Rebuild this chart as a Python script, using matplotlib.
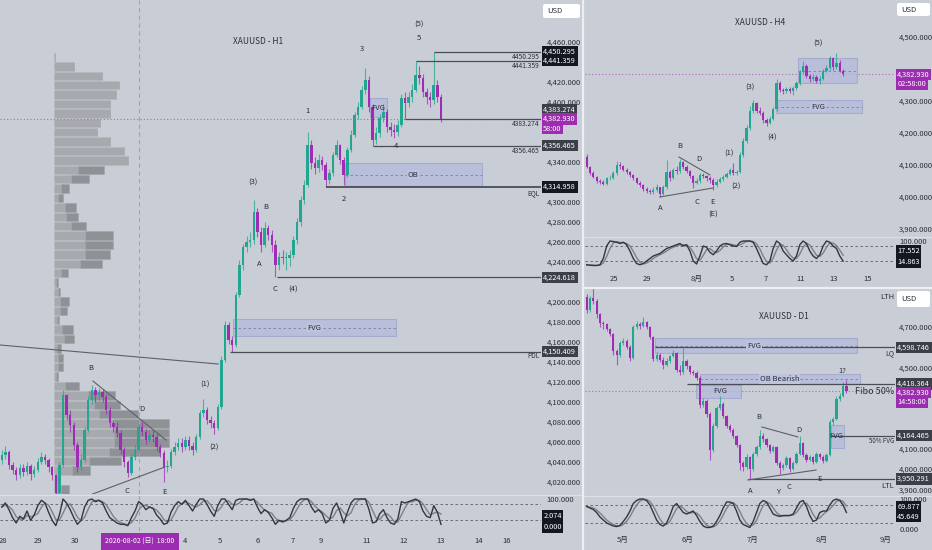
import numpy as np
import pandas as pd
import matplotlib
matplotlib.use('Agg')
import matplotlib.pyplot as plt
from matplotlib.patches import Rectangle, FancyBboxPatch
from matplotlib.lines import Line2D
from matplotlib.ticker import FuncFormatter

plt.rcParams['font.family'] = ['Liberation Sans Narrow', 'Noto Sans CJK JP', 'DejaVu Sans']

BG = '#c9ced6'
UP = '#22a68f'
DN = '#a02bb5'
TXT = '#2a2e39'
LINE = '#4a4d55'
BOXF = '#b5badc'
BOXE = '#9ea4cc'
BLACK = '#131722'
GRAY = '#3c3f47'
PURP = '#9c2db0'

# ---------------- H1 data ----------------
h1_open0 = 4042
h1_close = [4047, 4050, 4037, 4032, 4027, 4034, 4030, 4036, 4028, 4032,
            4040, 4045, 4042, 4035, 4027, 4009, 4037, 4107, 4087, 4077,
            4057, 4035, 4042, 4072, 4102, 4112, 4107, 4110, 4105, 4092,
            4079, 4075, 4069, 4052, 4040, 4029, 4045, 4052, 4075, 4070,
            4062, 4067, 4065, 4055, 4049, 4035, 4036, 4050, 4055, 4059,
            4055, 4062, 4056, 4052, 4065, 4089, 4092, 4082, 4079, 4074,
            4095, 4142, 4177, 4162, 4157, 4207, 4237, 4255, 4260, 4262,
            4290, 4270, 4257, 4274, 4267, 4257, 4237, 4245, 4244, 4244,
            4247, 4262, 4280, 4302, 4317, 4357, 4339, 4334, 4342, 4337,
            4322, 4329, 4347, 4357, 4342, 4327, 4352, 4367, 4387, 4395,
            4412, 4422, 4395, 4362, 4369, 4384, 4390, 4375, 4372, 4370,
            4377, 4404, 4399, 4405, 4412, 4427, 4424, 4410, 4405, 4402,
            4417, 4405, 4383]
h1_high = [4052, 4056, 4052, 4040, 4035, 4038, 4038, 4040, 4038, 4036,
           4044, 4050, 4048, 4044, 4036, 4028, 4040, 4112, 4108, 4092,
           4080, 4060, 4048, 4075, 4106, 4117, 4115, 4114, 4113, 4108,
           4095, 4082, 4080, 4072, 4055, 4042, 4048, 4057, 4078, 4080,
           4073, 4072, 4072, 4068, 4058, 4052, 4042, 4053, 4060, 4064,
           4064, 4066, 4066, 4060, 4068, 4092, 4103, 4095, 4086, 4082,
           4098, 4146, 4181, 4180, 4166, 4210, 4242, 4258, 4266, 4270,
           4302, 4294, 4275, 4280, 4277, 4272, 4262, 4250, 4252, 4250,
           4252, 4266, 4284, 4306, 4322, 4370, 4362, 4345, 4348, 4346,
           4340, 4333, 4350, 4362, 4358, 4345, 4355, 4372, 4390, 4400,
           4416, 4434, 4426, 4398, 4375, 4388, 4398, 4393, 4380, 4378,
           4382, 4408, 4410, 4410, 4418, 4441, 4436, 4428, 4414, 4410,
           4450, 4422, 4408]
h1_low = [4038, 4043, 4033, 4028, 4022, 4024, 4026, 4027, 4022, 4025,
          4030, 4038, 4038, 4030, 4022, 4005, 4007, 4035, 4082, 4070,
          4052, 4030, 4032, 4040, 4070, 4098, 4100, 4102, 4100, 4088,
          4075, 4070, 4064, 4048, 4035, 4025, 4027, 4042, 4050, 4066,
          4058, 4060, 4060, 4051, 4045, 4020, 4030, 4034, 4047, 4052,
          4050, 4052, 4052, 4047, 4050, 4063, 4085, 4078, 4074, 4068,
          4072, 4093, 4140, 4158, 4150, 4155, 4205, 4232, 4250, 4255,
          4258, 4265, 4250, 4255, 4262, 4250, 4225, 4232, 4238, 4232,
          4236, 4244, 4258, 4276, 4298, 4315, 4333, 4328, 4330, 4332,
          4315, 4318, 4326, 4345, 4338, 4317, 4325, 4350, 4365, 4383,
          4393, 4408, 4390, 4356, 4358, 4365, 4380, 4370, 4366, 4364,
          4366, 4375, 4383, 4395, 4400, 4410, 4418, 4405, 4398, 4395,
          4398, 4400, 4380]
h1_stoch = [70, 85, 60, 30, 10, 35, 25, 55, 20, 40,
            75, 95, 85, 50, 20, 0, 40, 100, 85, 60,
            30, 5, 20, 70, 95, 100, 90, 95, 85, 55,
            30, 20, 10, 5, 5, 0, 30, 55, 90, 80,
            60, 70, 65, 40, 25, 5, 10, 50, 75, 90,
            80, 95, 75, 55, 80, 100, 100, 80, 55, 35,
            75, 100, 100, 80, 60, 95, 100, 100, 100, 95,
            100, 70, 45, 60, 50, 30, 5, 20, 15, 20,
            30, 65, 90, 100, 100, 100, 70, 50, 60, 45,
            10, 20, 65, 85, 50, 10, 50, 85, 100, 100,
            100, 100, 60, 10, 15, 45, 60, 30, 10, 5,
            25, 90, 85, 90, 95, 100, 90, 55, 35, 30,
            75, 50, 5]
h1_dates = ['28', '29', '30', '4', '5', '6', '7', '9', '11', '12', '13', '14', '16']
h1_date_pos = [0.3, 10.1, 20.3, 50.9, 60.6, 71.2, 80.9, 88.7, 101.4, 111.7, 122, 132.6, 140.1]
vp_total = [1, 20, 48, 65, 62, 56, 56, 46, 43, 56, 70, 74, 50, 35, 15, 9,
            22, 24, 32, 59, 59, 56, 48, 14, 4, 6, 15, 13, 5, 19, 20, 7,
            9, 9, 4, 25, 61, 66, 84, 115, 115, 115, 106, 67, 36, 6, 15]
vp_up = [1, 20, 48, 65, 62, 56, 56, 46, 43, 56, 70, 74, 24, 17, 7, 4,
         11, 12, 17, 31, 31, 31, 26, 7, 2, 4, 6, 6, 3, 8, 10, 3,
         4, 4, 2, 11, 34, 40, 45, 60, 60, 60, 55, 35, 18, 3, 7]
h1_levels = [4450.295, 4441.359, 4383.274, 4356.465, 4314.958, 4224.618, 4150.409]
h1_level_from = [120, 115, 112, 103, 90, 76.4, 63.4]
last_price = 4382.930

# ---------------- H4 data ----------------
h4_open0 = 4126
h4_close = [4095, 4075, 4062, 4050, 4046, 4042, 4058, 4060, 4075, 4100,
            4096, 4085, 4078, 4068, 4058, 4045, 4036, 4025, 4020, 4015,
            4022, 4030, 4008, 4030, 4078, 4060, 4085, 4080, 4108, 4095,
            4080, 4065, 4045, 4050, 4068, 4065, 4058, 4052, 4038, 4048,
            4055, 4062, 4072, 4085, 4075, 4078, 4130, 4175, 4215, 4270,
            4295, 4270, 4262, 4240, 4232, 4245, 4275, 4355, 4335, 4330,
            4338, 4332, 4340, 4355, 4390, 4410, 4378, 4368, 4375, 4362,
            4370, 4395, 4402, 4435, 4405, 4420, 4395, 4383]
h4_high = [4135, 4098, 4080, 4066, 4055, 4052, 4062, 4068, 4080, 4112,
           4108, 4100, 4090, 4082, 4072, 4062, 4050, 4040, 4032, 4026,
           4030, 4040, 4032, 4036, 4115, 4085, 4092, 4098, 4120, 4112,
           4100, 4085, 4068, 4060, 4075, 4075, 4070, 4064, 4058, 4055,
           4062, 4068, 4078, 4092, 4105, 4085, 4142, 4185, 4225, 4285,
           4303, 4298, 4280, 4268, 4248, 4252, 4280, 4368, 4362, 4342,
           4345, 4345, 4348, 4362, 4398, 4425, 4415, 4385, 4385, 4380,
           4378, 4400, 4412, 4442, 4438, 4450, 4428, 4400]
h4_low = [4090, 4070, 4058, 4045, 4040, 4036, 4038, 4052, 4055, 4070,
          4088, 4080, 4072, 4062, 4052, 4040, 4030, 4018, 4012, 4008,
          4010, 4015, 4000, 4005, 4025, 4050, 4055, 4072, 4075, 4088,
          4075, 4058, 4028, 4040, 4045, 4058, 4050, 4045, 4022, 4032,
          4045, 4050, 4058, 4068, 4070, 4068, 4075, 4125, 4170, 4210,
          4262, 4262, 4255, 4232, 4222, 4228, 4240, 4270, 4328, 4322,
          4325, 4325, 4318, 4335, 4350, 4385, 4372, 4360, 4362, 4355,
          4352, 4365, 4390, 4398, 4398, 4400, 4390, 4378]
h4_stoch = [5, 3, 2, 2, 5, 30, 80, 100, 98, 95,
            90, 95, 85, 60, 30, 10, 5, 10, 20, 30,
            40, 45, 50, 60, 70, 75, 80, 85, 90, 80,
            85, 60, 20, 8, 40, 80, 75, 55, 45, 60,
            80, 88, 90, 85, 80, 78, 95, 100, 100, 100,
            95, 70, 40, 10, 5, 20, 70, 100, 90, 60,
            45, 30, 20, 40, 85, 100, 90, 60, 40, 30,
            45, 80, 100, 95, 80, 70, 40, 20]
h4_dates = ['25', '29', '8月', '5', '7', '11', '13', '15']
h4_date_pos = [8.2, 18.1, 33.1, 43.6, 53.8, 64.3, 74.2, 84.4]

# ---------------- D1 data ----------------
d1_open0 = 4849
d1_close = [4783, 4840, 4830, 4765, 4720, 4712, 4690, 4665, 4582, 4560,
            4620, 4630, 4600, 4545, 4700, 4715, 4705, 4725, 4700, 4650,
            4540, 4560, 4535, 4510, 4530, 4555, 4570, 4490, 4480, 4530,
            4505, 4480, 4475, 4450, 4315, 4335, 4270, 4095, 4210, 4300,
            4320, 4260, 4210, 4190, 4165, 4120, 4030, 4010, 4060, 4000,
            4075, 4110, 4165, 4150, 4120, 4090, 4110, 4030, 4005, 4020,
            4055, 4000, 4030, 4075, 4130, 4070, 4045, 4060, 4035, 4075,
            4060, 4040, 4070, 4230, 4245, 4345, 4360, 4408, 4383]
d1_high = [4860, 4850, 4890, 4838, 4770, 4730, 4718, 4695, 4670, 4590,
           4630, 4645, 4640, 4610, 4710, 4730, 4725, 4750, 4730, 4705,
           4655, 4575, 4570, 4550, 4545, 4560, 4585, 4575, 4510, 4595,
           4540, 4512, 4490, 4485, 4460, 4350, 4345, 4280, 4225, 4310,
           4360, 4330, 4265, 4220, 4200, 4170, 4125, 4040, 4075, 4065,
           4085, 4120, 4190, 4175, 4155, 4125, 4118, 4115, 4040, 4030,
           4065, 4060, 4040, 4085, 4165, 4135, 4080, 4070, 4065, 4085,
           4080, 4070, 4080, 4245, 4255, 4360, 4372, 4430, 4440]
d1_low = [4770, 4775, 4815, 4745, 4700, 4690, 4680, 4655, 4560, 4510,
          4550, 4610, 4590, 4530, 4540, 4690, 4690, 4700, 4690, 4640,
          4530, 4530, 4525, 4495, 4505, 4520, 4550, 4480, 4465, 4470,
          4495, 4470, 4462, 4440, 4300, 4305, 4255, 4045, 4085, 4200,
          4290, 4250, 4200, 4180, 4155, 4110, 3995, 3990, 4000, 3952,
          3990, 4065, 4100, 4135, 4110, 4080, 4085, 4020, 3975, 3995,
          4010, 3985, 3995, 4025, 4070, 4060, 4035, 4040, 4025, 4030,
          4050, 4030, 4035, 4065, 4215, 4240, 4335, 4355, 4375]
d1_stoch = [75, 70, 65, 55, 40, 30, 20, 15, 10, 8,
            12, 25, 40, 60, 85, 95, 100, 100, 95, 80,
            55, 30, 15, 10, 20, 45, 75, 85, 70, 55,
            50, 55, 60, 45, 25, 10, 5, 5, 10, 25,
            45, 70, 90, 90, 85, 60, 30, 15, 10, 5,
            25, 55, 85, 95, 90, 70, 50, 45, 42, 45,
            45, 45, 50, 70, 90, 95, 75, 45, 25, 30,
            55, 60, 60, 80, 95, 100, 95, 80, 55]
d1_dates = ['5月', '6月', '7月', '8月', '9月']
d1_date_pos = [10.9, 30.4, 49.9, 70.6, 89.6]

# ---------------- helpers ----------------
W, H = 932, 550
fig = plt.figure(figsize=(W / 100, H / 100), dpi=100, facecolor=BG)


def rect(x0, y0, x1, y1):
    return [x0 / W, 1 - y1 / H, (x1 - x0) / W, (y1 - y0) / H]


def new_ax(x0, y0, x1, y1):
    ax = fig.add_axes(rect(x0, y0, x1, y1))
    ax.set_facecolor(BG)
    for s in ax.spines.values():
        s.set_visible(False)
    ax.yaxis.tick_right()
    ax.tick_params(length=0, labelsize=5.5, colors=TXT, pad=3)
    ax.set_xticks([])
    return ax


def draw_candles(ax, open0, close, high, low, width, minh):
    c = np.array(close, float)
    o = np.r_[open0, c[:-1]]
    x = np.arange(len(c))
    col = np.where(c >= o, UP, DN)
    ax.vlines(x, low, high, colors=col, lw=0.8, alpha=0.75, zorder=3)
    ax.bar(x, np.maximum(np.abs(c - o), minh), bottom=np.minimum(o, c),
           width=width, color=col, linewidth=0, zorder=4)


def draw_osc(ax, k):
    k = pd.Series(k, dtype=float)
    d = k.rolling(3, min_periods=1).mean()
    ax.plot(k.index, d, color='#7d8087', lw=1.0, zorder=3)
    ax.plot(k.index, k, color='#34363b', lw=1.0, zorder=4)
    for lv in (80, 20):
        ax.axhline(lv, color='#5a5d66', lw=0.6, ls=(0, (3, 3)), zorder=2)


def zone(ax, x0, x1, p0, p1, label=None, lx=None, fs=5.5, mid=True):
    ax.add_patch(Rectangle((x0, p0), x1 - x0, p1 - p0, fc=BOXF, ec=BOXE,
                           lw=0.8, alpha=0.8, zorder=2))
    m = (p0 + p1) / 2
    if mid:
        ax.plot([x0, x1], [m, m], color='#7b809c', lw=0.6, ls=(0, (3, 3)), zorder=2)
    if label:
        ax.text(lx, m, label, ha='center', va='center', fontsize=fs, color=TXT,
                zorder=5, bbox=dict(fc='#bec3de', ec='none', pad=0.6))


def tag(ax, y, s, fc, dy=0, tc='white', fs=5.3):
    ax.annotate(s, xy=(1, y), xycoords=ax.get_yaxis_transform(),
                xytext=(1.6, dy), textcoords='offset points', ha='left',
                va='center', fontsize=fs, color=tc, annotation_clip=False,
                zorder=10, bbox=dict(boxstyle='square,pad=0.22', fc=fc, ec='none'))


def lab(ax, x, y, s, fs=5.5, **kw):
    ax.text(x, y, s, ha='center', va='center', fontsize=fs, color=TXT, zorder=6, **kw)


def rlab(ax, y, s, fs=4.8):
    ax.text(0.997, y, s, transform=ax.get_yaxis_transform(), ha='right',
            va='center', fontsize=fs, color=TXT, zorder=6)


def free_ticks(ticks, tags, px_per_unit, gap):
    # keep only the price ticks that are not hidden behind a price tag
    return [t for t in ticks if all(abs(t - g) * px_per_unit >= gap for g in tags)]


fmt = FuncFormatter(lambda v, p: f'{v:,.3f}')

# ================= H1 panel =================
ax1 = new_ax(0, 0, 541, 494)
ax1o = new_ax(0, 495, 541, 531)

vp_pos = 4445 - 9.4 * np.arange(len(vp_total))
vp_x0 = 14.5
ax1.barh(vp_pos, np.array(vp_up) / 3.6, left=vp_x0, height=8.4, color='#a6a9ae',
         edgecolor='#b6b9be', lw=0.4, zorder=1)
ax1.barh(vp_pos, (np.array(vp_total) - np.array(vp_up)) / 3.6,
         left=vp_x0 + np.array(vp_up) / 3.6, height=8.4, color='#8e9196',
         edgecolor='#a2a5aa', lw=0.4, zorder=1)

draw_candles(ax1, h1_open0, h1_close, h1_high, h1_low, 0.72, 0.8)

for lv, x0 in zip(h1_levels, h1_level_from):
    ax1.hlines(lv, x0, 1000, color=LINE, lw=1.3 if lv == 4314.958 else 0.9, zorder=3)
ax1.axhline(last_price, color='#b066c2', lw=0.8, ls=(0, (1, 2)), zorder=2)
ax1.axvline(38.1, color='#b991cb', lw=0.8, ls=(0, (4, 3)), zorder=2)
ax1o.axvline(38.1, color='#b991cb', lw=0.8, ls=(0, (4, 3)), zorder=2)

ax1.plot([-0.5, 60.1], [4157, 4138], color='#5d6068', lw=0.8, zorder=3)
ax1.plot([25.3, 45.6], [4121, 4062], color='#5d6068', lw=0.8, zorder=5)
ax1.plot([24.5, 45.3], [4007, 4035], color='#5d6068', lw=0.8, zorder=5)

zone(ax1, 95.3, 133.4, 4316, 4339, 'OB', 114.2)
zone(ax1, 64.2, 109.5, 4166, 4183, 'FVG', 86.7)
zone(ax1, 102.3, 107.0, 4385, 4404, mid=False)
lab(ax1, 104.5, 4394, 'FVG', fs=5.5)

lab(ax1, 71.2, 4461, 'XAUUSD - H1', fs=6)
for s, x, y in [('(3)', 69.8, 4319), ('B', 73.4, 4295), ('A', 71.4, 4238),
                ('C', 75.9, 4213), ('(4)', 80.9, 4212), ('1', 84.8, 4391),
                ('2', 95.1, 4303), ('3', 100.1, 4453), ('4', 109.5, 4356),
                ('5', 115.9, 4464), ('(5)', 115.9, 4477), ('B', 24.8, 4134),
                ('C', 34.8, 4011), ('D', 38.9, 4093), ('E', 45.3, 4010),
                ('(1)', 56.4, 4117), ('(2)', 59.0, 4054)]:
    lab(ax1, x, y, s)

rlab(ax1, 4445, '4450.295')
rlab(ax1, 4436, '4441.359')
rlab(ax1, 4378, '4383.274')
rlab(ax1, 4351, '4356.465')
rlab(ax1, 4309, 'EQL')
rlab(ax1, 4146, 'PDL')

ax1.set_xlim(-0.5, 149.78)
ax1.set_ylim(4008, 4502)
h1_tag_at = [4450.295, 4441.359, 4392, 4382.93, 4373, 4356.465, 4314.958, 4224.618, 4150.409]
ax1.set_yticks(free_ticks(np.arange(4020, 4461, 20), h1_tag_at, 1.0, 7.5))
ax1.yaxis.set_major_formatter(fmt)
ax1.tick_params(pad=4)

tag(ax1, 4450.295, '4,450.295', BLACK)
tag(ax1, 4441.359, '4,441.359', BLACK)
tag(ax1, 4383.274, '4,383.274', GRAY, dy=6.5)
tag(ax1, last_price, '4,382.930', PURP)
tag(ax1, last_price, '58:00', PURP, dy=-7)
tag(ax1, 4356.465, '4,356.465', GRAY)
tag(ax1, 4314.958, '4,314.958', BLACK)
tag(ax1, 4224.618, '4,224.618', GRAY)
tag(ax1, 4150.409, '4,150.409', GRAY)

draw_osc(ax1o, h1_stoch)
ax1o.set_xlim(-0.5, 149.78)
ax1o.set_ylim(-20, 115)
ax1o.set_yticks([100])
ax1o.yaxis.set_major_formatter(fmt)
ax1o.tick_params(pad=4)
ax1o.set_xticks(h1_date_pos)
ax1o.set_xticklabels(h1_dates)
tag(ax1o, 2.074, '2.074', BLACK, dy=6.5)
tag(ax1o, 0.0, '0.000', BLACK, dy=-1)
ax1o.annotate('2026-08-02 (日)  18:00', xy=(38.4, 0), xycoords=('data', 'axes fraction'),
              xytext=(0, -7.5), textcoords='offset points', ha='center', va='center',
              fontsize=5.0, color='white', annotation_clip=False, zorder=10,
              bbox=dict(boxstyle='square,pad=0.6', fc=PURP, ec='none'))

# ================= H4 panel =================
ax2 = new_ax(585, 0, 895, 236)
ax2o = new_ax(585, 238, 895, 271)
draw_candles(ax2, h4_open0, h4_close, h4_high, h4_low, 0.66, 2.5)
ax2.axhline(last_price, color='#b066c2', lw=0.8, ls=(0, (1, 2)), zorder=2)
zone(ax2, 63.5, 81.2, 4356, 4434)
zone(ax2, 56.8, 82.6, 4262, 4303, 'FVG', 69.4)
ax2.plot([27.7, 37.0], [4125, 4069], color='#5d6068', lw=0.8, zorder=5)
ax2.plot([22.0, 37.9], [4000, 4028], color='#5d6068', lw=0.8, zorder=5)
lab(ax2, 52.1, 4544, 'XAUUSD - H4', fs=6)
for s, x, y in [('(5)', 69.4, 4478), ('(3)', 49.0, 4341), ('(4)', 55.6, 4187),
                ('(1)', 42.6, 4137), ('(2)', 44.8, 4031), ('B', 28.0, 4159),
                ('D', 33.7, 4119), ('A', 22.0, 3966), ('C', 33.1, 3984),
                ('E', 37.9, 3984), ('(E)', 37.9, 3944)]:
    lab(ax2, x, y, s)
ax2.set_xlim(-0.5, 92.58)
ax2.set_ylim(3878, 4615.6)
ax2.set_yticks(free_ticks(np.arange(3900, 4501, 100), [last_price, 4352], 0.32, 7.5))
ax2.yaxis.set_major_formatter(fmt)
tag(ax2, last_price, '4,382.930', PURP)
tag(ax2, last_price, '02:58:00', PURP, dy=-7)

draw_osc(ax2o, h4_stoch)
ax2o.set_xlim(-0.5, 92.58)
ax2o.set_ylim(-20, 112)
ax2o.set_yticks([100])
ax2o.yaxis.set_major_formatter(fmt)
ax2o.set_xticks(h4_date_pos)
ax2o.set_xticklabels(h4_dates)
tag(ax2o, 17.552, '17.552', BLACK, dy=7.6)
tag(ax2o, 14.863, '14.863', BLACK, dy=0)

# ================= D1 panel =================
ax3 = new_ax(585, 289, 895, 495)
ax3o = new_ax(585, 497, 895, 532)
draw_candles(ax3, d1_open0, d1_close, d1_high, d1_low, 0.66, 4)
ax3.axhline(last_price, color='#b066c2', lw=0.8, ls=(0, (1, 2)), zorder=2)
zone(ax3, 20.5, 81.2, 4571, 4645, 'FVG', 50.3)
zone(ax3, 34.0, 82.1, 4419, 4468, 'OB Bearish', 58.0)
zone(ax3, 32.8, 46.3, 4350, 4414, mid=False)
lab(ax3, 40.0, 4384, 'FVG')
zone(ax3, 73.3, 77.3, 4103, 4217, mid=False)
lab(ax3, 74.9, 4163, 'FVG')
ax3.hlines(4598.746, 20.5, 1000, color=LINE, lw=0.9, zorder=3)
ax3.hlines(4418.364, 30.1, 1000, color=LINE, lw=0.9, zorder=3)
ax3.hlines(4164.465, 73.3, 1000, color=LINE, lw=0.9, zorder=3)
ax3.hlines(3950.291, 48.4, 1000, color=LINE, lw=0.9, zorder=3)
ax3.plot([52.6, 63.4], [4207, 4158], color='#5d6068', lw=0.8, zorder=5)
ax3.plot([48.4, 68.9], [3946, 3995], color='#5d6068', lw=0.8, zorder=5)
lab(ax3, 59.3, 4749, 'XAUUSD - D1', fs=6)
for s, x, y in [('1?', 76.7, 4483), ('B', 51.7, 4256), ('D', 63.7, 4192),
                ('A', 49.0, 3892), ('Y', 57.4, 3887), ('C', 60.8, 3911),
                ('E', 70.0, 3951)]:
    lab(ax3, x, y, s)
rlab(ax3, 4847, 'LTH', fs=5.5)
rlab(ax3, 4570, 'LQ', fs=5)
rlab(ax3, 4384, 'Fibo 50%', fs=6.5)
rlab(ax3, 4138, '50% FVG', fs=4.5)
rlab(ax3, 3915, 'LTL', fs=5.5)
ax3.set_xlim(-0.5, 92.58)
ax3.set_ylim(3872, 4886.7)
d1_tag_at = [4598.746, 4418.364, 4378, 4325, 4164.465, 3950.291, 4800]
ax3.set_yticks(free_ticks(np.arange(3900, 4801, 100), d1_tag_at, 0.203, 7.5))
ax3.yaxis.set_major_formatter(fmt)
tag(ax3, 4598.746, '4,598.746', GRAY)
tag(ax3, 4418.364, '4,418.364', GRAY)
tag(ax3, last_price, '4,382.930', PURP, dy=-1)
tag(ax3, last_price, '14:58:00', PURP, dy=-8)
tag(ax3, 4164.465, '4,164.465', GRAY)
tag(ax3, 3950.291, '3,950.291', GRAY)

draw_osc(ax3o, d1_stoch)
ax3o.set_xlim(-0.5, 92.58)
ax3o.set_ylim(-10, 106.7)
ax3o.set_yticks([0, 100])
ax3o.yaxis.set_major_formatter(fmt)
ax3o.set_xticks(d1_date_pos)
ax3o.set_xticklabels(d1_dates)
tag(ax3o, 69.877, '69.877', BLACK, dy=1)
tag(ax3o, 45.649, '45.649', BLACK, dy=-1)

# ================= chrome =================
for x0, y0, x1, y1 in [(543, 4, 580, 18), (897, 3, 930, 16), (897, 291, 930, 307)]:
    fig.add_artist(FancyBboxPatch((x0 / W, 1 - y1 / H), (x1 - x0) / W, (y1 - y0) / H,
                                  boxstyle='round,pad=0,rounding_size=0.003',
                                  transform=fig.transFigure, fc='white', ec='none', zorder=20))
    fig.text((x0 + 4) / W, 1 - (y0 + y1) / 2 / H, 'USD', fontsize=5.5, color=TXT,
             va='center', ha='left', zorder=21)


def sep(x0, y0, x1, y1, c, lw):
    fig.add_artist(Line2D([x0 / W, x1 / W], [1 - y0 / H, 1 - y1 / H],
                          transform=fig.transFigure, color=c, lw=lw))


sep(582.5, 0, 582.5, 550, '#eceef1', 1.6)
sep(583, 287.5, 932, 287.5, '#eceef1', 1.6)
sep(0, 494.6, 581, 494.6, '#dde0e5', 0.8)
sep(584, 237, 932, 237, '#dde0e5', 0.8)
sep(584, 496, 932, 496, '#dde0e5', 0.8)

fig.savefig('out.png', dpi=100, facecolor=BG)
